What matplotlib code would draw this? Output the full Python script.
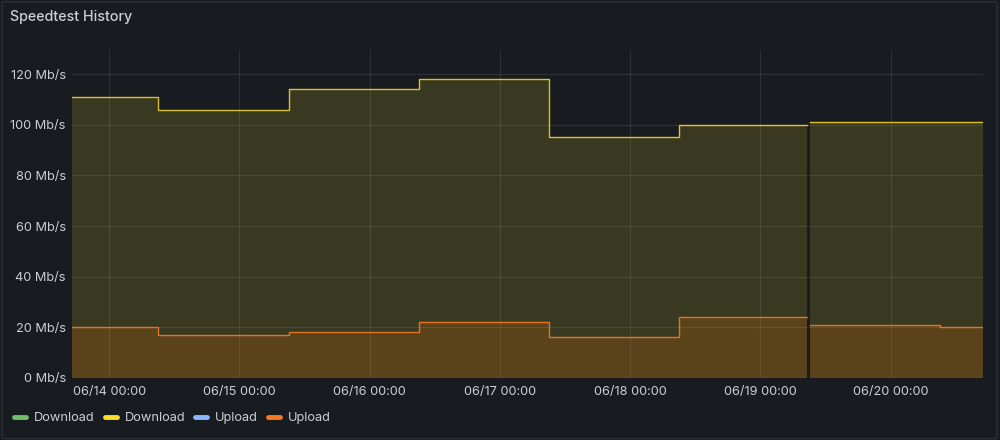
import numpy as np
import pandas as pd
import matplotlib
matplotlib.use("Agg")
import matplotlib.pyplot as plt
import matplotlib.dates as mdates
from matplotlib.lines import Line2D
from matplotlib.patches import FancyBboxPatch

plt.rcParams["font.family"] = ["Inter", "DejaVu Sans"]

# speedtest results (step changes), a short gap before the 06/19 run
times = pd.to_datetime([
    "2024-06-13 17:10", "2024-06-14 09:05", "2024-06-15 09:05",
    "2024-06-16 09:05", "2024-06-17 09:05", "2024-06-18 09:05",
    "2024-06-19 08:35", "2024-06-19 09:05", "2024-06-20 09:05",
    "2024-06-20 17:00",
])
download = [111, 106, 114, 118, 95, 100, 100, 101, 101, 101]
upload = [20, 17, 18, 22, 16, 24, 24, 21, 20, 20]
gap_after = 7  # first segment is times[:7]

y_ticks = [0, 20, 40, 60, 80, 100, 120]
legend_names = ["Download", "Download", "Upload", "Upload"]
legend_colors = ["#73BF69", "#FADE2A", "#8AB8FF", "#F57A22"]

BG = "#181b1f"
TXT = "#ccccdc"
YELLOW = "#FADE2A"
ORANGE = "#F57A22"

fig = plt.figure(figsize=(10, 4.4), dpi=100, facecolor=BG)
fig.patches.append(FancyBboxPatch((0.002, 0.003), 0.995, 0.993,
                                  boxstyle="round,pad=0,rounding_size=0.004",
                                  transform=fig.transFigure, facecolor=BG,
                                  edgecolor="#2d3036", lw=1, zorder=-1))
ax = fig.add_axes([0.072, 0.141, 0.911, 0.745])
ax.set_facecolor(BG)

segments = [slice(0, gap_after), slice(gap_after, None)]
for seg in segments:
    t = times[seg]
    d = np.array(download[seg], dtype=float)
    u = np.array(upload[seg], dtype=float)
    ax.fill_between(t, 0, d, step="post", color=YELLOW, alpha=0.15, lw=0, zorder=2)
    ax.fill_between(t, 0, u, step="post", color="#FF7C00", alpha=0.17, lw=0, zorder=3)
    ax.plot(t, d, drawstyle="steps-post", color=YELLOW, lw=1, alpha=0.85, zorder=4)
    ax.plot(t, u, drawstyle="steps-post", color=ORANGE, lw=1, alpha=0.9, zorder=4)

ax.set_xlim(times[0], times[-1])
ax.set_ylim(0, 129.5)
ax.set_yticks(y_ticks)
ax.set_yticklabels([f"{v} Mb/s" for v in y_ticks])
ax.xaxis.set_major_locator(mdates.DayLocator())
ax.xaxis.set_major_formatter(mdates.DateFormatter("%m/%d %H:%M"))

ax.grid(True, color=TXT, alpha=0.12, lw=0.8, zorder=1)
ax.set_axisbelow(False)
for s in ax.spines.values():
    s.set_visible(False)
ax.tick_params(length=0, colors=TXT, labelsize=9.2)
ax.tick_params(axis="y", pad=4.5)
ax.tick_params(axis="x", pad=6)

fig.text(0.01, 0.962, "Speedtest History", color=TXT, fontsize=10.3,
         fontweight="medium", va="center", ha="left")

handles = [Line2D([], [], color=c, lw=3.5, solid_capstyle="round") for c in legend_colors]
fig.legend(handles, legend_names, loc="center left", bbox_to_anchor=(0.014, 0.05),
           ncol=4, frameon=False, fontsize=9.2, labelcolor=TXT,
           handlelength=0.95, handletextpad=0.6, columnspacing=0.8,
           borderaxespad=0, borderpad=0)

fig.savefig("out.png", dpi=100, facecolor=BG)
